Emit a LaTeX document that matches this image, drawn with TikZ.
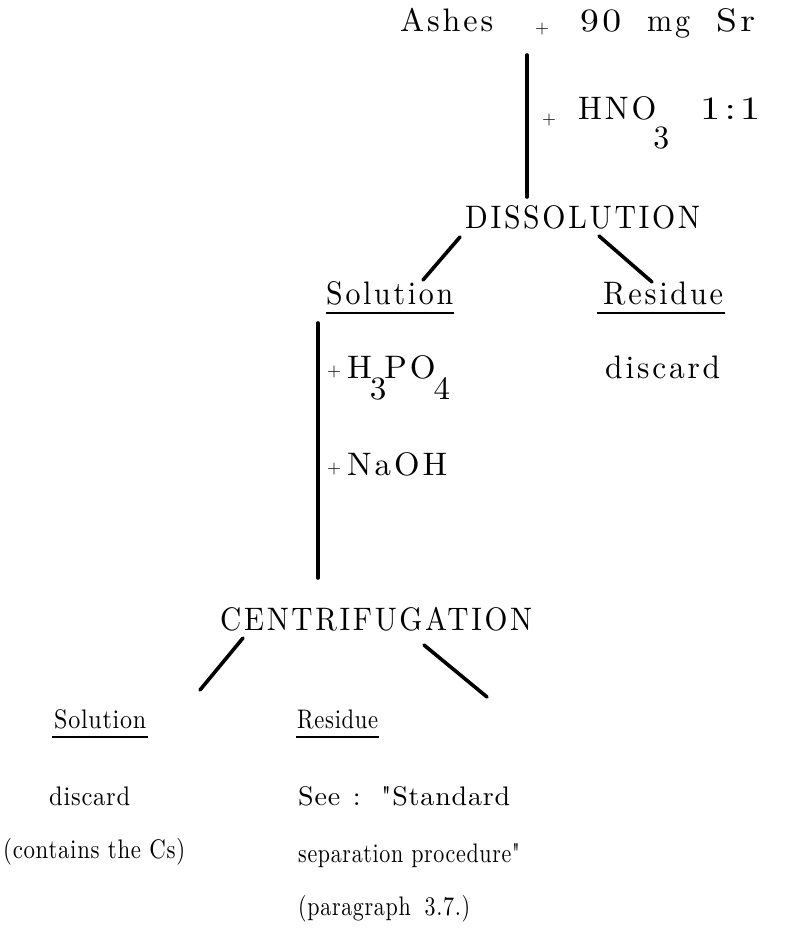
\documentclass[tikz,border=0pt]{standalone}
\usepackage{fontspec}
\usepackage{graphicx}
\newfontfamily\fonta{lmroman10-regular}[Extension=.otf, Ligatures=TeXOff, LetterSpace=9]
\newfontfamily\fontb{lmroman10-regular}[Extension=.otf, Ligatures=TeXOff, LetterSpace=3]
\newfontfamily\fontp{lmroman10-regular}[Extension=.otf]
\newcommand\fitw[2]{\resizebox{#1pt}{1.05\height}{#2}}
\newcommand\fitb[2]{\resizebox{#1pt}{1.22\height}{#2}}
\tikzset{
  txt/.style={anchor=base west, inner sep=0pt, font=\fonta\fontsize{31}{36}\selectfont},
  txtb/.style={anchor=base west, inner sep=0pt, font=\fontb\fontsize{22}{26}\selectfont},
  pl/.style={anchor=base west, inner sep=0pt, font=\fontp\fontsize{18}{20}\selectfont},
  ln/.style={line width=3.6pt, line cap=round},
  ul/.style={line width=1.8pt}
}
\begin{document}
\begin{tikzpicture}[x=1pt,y=-1pt]
\useasboundingbox[fill=white] (0,0) rectangle (811,928);
% top line
\node[txt] (ashes) at (400,32) {\fitw{93}{Ashes}};
\node[pl]  (p1) at (535,34) {+};
\node[txt] (n90) at (580,32) {\fitw{41}{90}};
\node[txt] (mg) at (647,32) {\fitw{43}{mg}};
\node[txt] (sr) at (716,32) {\fitw{39}{Sr}};
% HNO3
\coordinate (v1a) at (527,55);
\coordinate (v1b) at (527,197);
\draw[ln] (v1a) -- (v1b);
\node[pl]  (p2) at (542,125) {+};
\node[txt] (hno) at (578,120) {\fitw{91}{HNO\kern-3pt\raisebox{-27pt}{3}}};
\node[txt] (rat) at (700,120) {\fitw{60}{1\hspace{3pt}:\hspace{3pt}1}};
% dissolution
\node[txt] (diss) at (465,229) {\fitw{235}{DISSOLUTION}};
\node[txt] (sol1) at (326,304) {\fitw{127}{Solution}};
\node[txt] (res1) at (603,304) {\fitw{120}{Residue}};
\coordinate (d1a) at (460,237);
\coordinate (d1b) at (423,280);
\coordinate (d2a) at (599,236);
\coordinate (d2b) at (652,282);
\draw[ln] (d1a) -- (d1b);
\draw[ln] (d2a) -- (d2b);
\draw[ul] ([yshift=-9pt]sol1.base west) -- ([xshift=1pt,yshift=-9pt]sol1.base east);
\draw[ul] ([xshift=-6pt,yshift=-9pt]res1.base west) -- ([xshift=2pt,yshift=-9pt]res1.base east);
% reagents
\coordinate (v2a) at (318,323);
\coordinate (v2b) at (318,578);
\draw[ln] (v2a) -- (v2b);
\node[pl]  (p3) at (327,376) {+};
\node[txt] (hpo) at (347,378) {\fitw{103}{H\kern-2pt\raisebox{-20pt}{3}\kern-2pt PO\kern-2pt\raisebox{-20pt}{4}}};
\node[txt] (disc1) at (605,378) {\fitw{115}{discard}};
\node[pl]  (p4) at (327,473) {+};
\node[txt] (naoh) at (347,475) {\fitw{100}{NaOH}};
% centrifugation
\node[txt] (cent) at (220,630) {\fitw{312}{CENTRIFUGATION}};
\coordinate (d3a) at (243,638);
\coordinate (d3b) at (200,690);
\coordinate (d4a) at (424,645);
\coordinate (d4b) at (487,697);
\draw[ln] (d3a) -- (d3b);
\draw[ln] (d4a) -- (d4b);
\node[txtb] (sol2) at (54,728) {\fitb{92}{Solution}};
\node[txtb] (res2) at (297,728) {\fitb{81}{Residue}};
\draw[ul] ([xshift=-2pt,yshift=-9pt]sol2.base west) -- ([xshift=2pt,yshift=-9pt]sol2.base east);
\draw[ul] ([xshift=-1pt,yshift=-9pt]res2.base west) -- ([xshift=1pt,yshift=-9pt]res2.base east);
\node[txtb] (disc2) at (49,805) {\fitb{81}{discard}};
\node[txtb] (cont) at (3,858) {\fitb{182}{(contains the Cs)}};
\node[txtb] (see) at (298,805) {\fitb{212}{See\hspace{10pt}:\hspace{16pt}"Standard}};
\node[txtb] (sep) at (298,862) {\fitb{222}{separation procedure"}};
\node[txtb] (para) at (298,915) {\fitb{172}{(paragraph\hspace{6pt} 3.7.)}};
\end{tikzpicture}
\end{document}
